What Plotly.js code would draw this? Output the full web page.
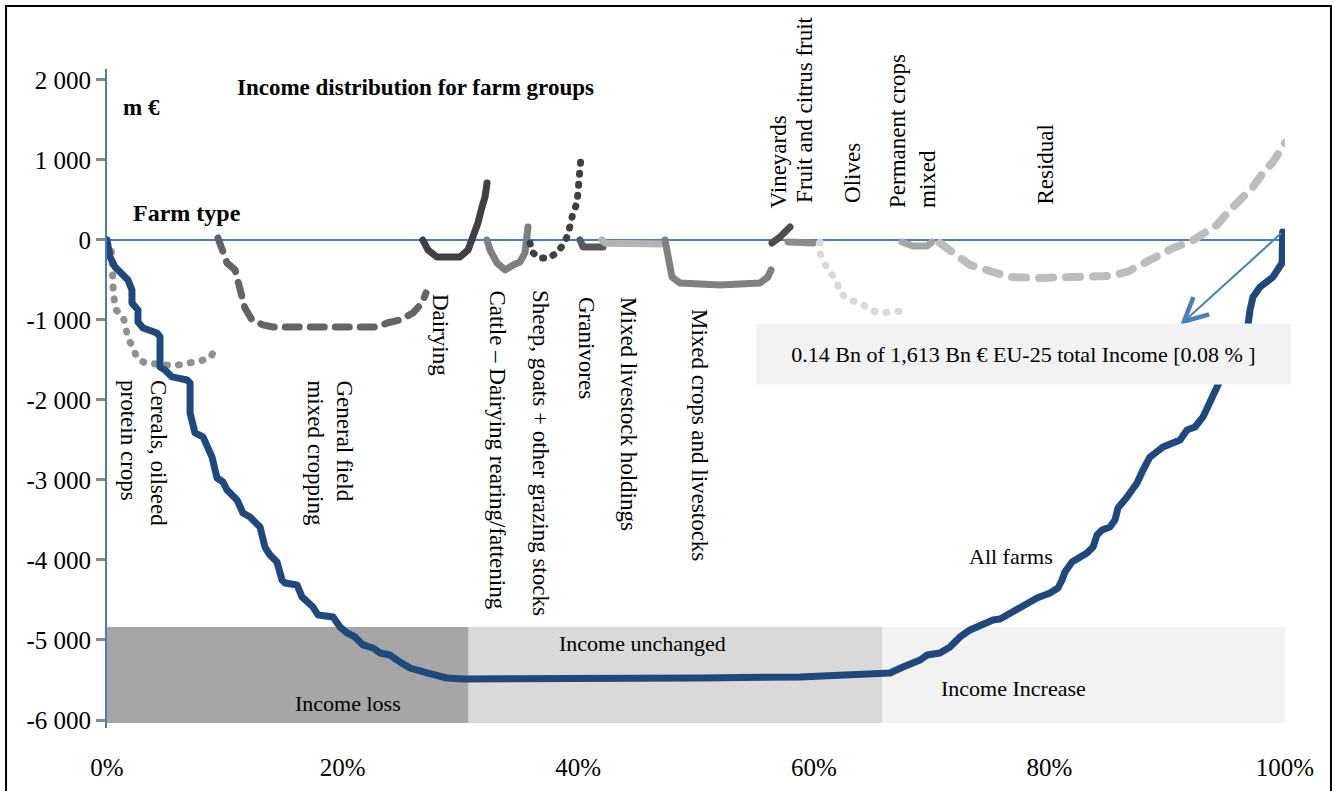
<!DOCTYPE html>
<html><head><meta charset="utf-8">
<script src="https://cdn.plot.ly/plotly-3.0.1.min.js"></script>
<style>
html,body{margin:0;padding:0;background:#fff;}
#chart{width:1334px;height:791px;}
.scatterlayer .js-line{stroke-linecap:round !important;stroke-linejoin:round !important;}
</style></head><body><div id="chart"></div>
<script>
// ---------- axes ----------
const yTickVals = [-6000,-5000,-4000,-3000,-2000,-1000,0,1000,2000];
const yTickText = ['-6 000','-5 000','-4 000','-3 000','-2 000','-1 000','0','1 000','2 000'];
const xTickVals = [0,20,40,60,80,100];
const xTickText = ['0%','20%','40%','60%','80%','100%'];

// ---------- series (x = cumulative share of farms, %, y = income change, m €) ----------
const allFarmsX = [0,0.08,0.25,0.68,1.78,2.12,2.12,2.63,2.63,3.06,4.24,4.5,4.5,4.92,5.52,6.79,7.05,7.05,7.3,7.47,8.15,8.91,9.34,9.85,10.19,11.04,11.54,12.14,12.99,13.41,13.84,14.43,14.86,15.11,16.13,16.55,17.49,17.91,19.19,19.78,20.37,21.05,21.73,22.58,23.17,24.02,24.87,25.72,27.16,28.86,30.22,35.91,50.34,58.83,63.92,65.79,66.47,67.57,69.02,69.61,70.71,71.56,72.41,73.26,74.11,75.21,75.81,76.4,77.25,78.1,78.95,80.05,80.73,81.07,81.32,81.92,83.19,83.7,84.04,84.47,85.14,85.57,85.82,86.59,87.44,87.95,88.54,89.64,91.09,91.68,92.36,93.04,93.63,94.31,95.33,96.18,96.86,97.03,97.28,97.88,98.98,99.75,99.8];
const allFarmsY = [0,-62,-212,-338,-500,-625,-788,-875,-1025,-1100,-1162,-1212,-1588,-1625,-1712,-1750,-1788,-2162,-2288,-2412,-2462,-2712,-2975,-3025,-3125,-3250,-3412,-3462,-3588,-3838,-3938,-4025,-4250,-4288,-4312,-4462,-4588,-4688,-4712,-4838,-4912,-4962,-5062,-5100,-5162,-5188,-5275,-5350,-5412,-5475,-5488,-5488,-5475,-5462,-5438,-5412,-5412,-5338,-5250,-5188,-5162,-5088,-4962,-4875,-4812,-4750,-4738,-4688,-4625,-4562,-4475,-4412,-4350,-4250,-4150,-4025,-3912,-3838,-3688,-3625,-3588,-3500,-3350,-3212,-3038,-2875,-2712,-2588,-2500,-2375,-2338,-2212,-2000,-1812,-1500,-1250,-1062,-875,-712,-588,-462,-288,100];

const cerealsX = [0,0.08,0.42,0.42,0.51,0.51,0.59,0.76,1.36,1.53,1.78,2.21,2.55,3.23,4.24,5.09,6.03,7.05,7.89,8.74,9.25];
const cerealsY = [0,-62,-162,-300,-450,-588,-725,-875,-950,-1100,-1225,-1350,-1475,-1538,-1562,-1562,-1562,-1538,-1512,-1475,-1350];

const generalFieldX = [9.42,9.85,10.19,10.87,11.12,11.38,11.71,12.31,13.24,14.09,16.38,19.19,22.07,22.92,23.77,24.87,25.98,26.74,27.08];
const generalFieldY = [25,-150,-288,-375,-538,-688,-850,-1000,-1062,-1088,-1088,-1088,-1088,-1088,-1038,-1000,-912,-788,-662];

const dairyingX = [26.8,27.25,28.01,29.97,30.65,31.07,31.49,31.83,32.09,32.26];
const dairyingY = [0,-125,-212,-212,-125,25,212,412,538,712];

const cattleX = [32.26,32.51,33.11,33.79,34.47,35.06,35.48,35.65,35.74];
const cattleY = [0,-125,-288,-375,-312,-275,-162,0,162];

const sheepX = [35.91,36.08,36.67,37.44,38.2,38.71,39.13,39.3,39.56,39.9,39.98,40.15,40.24,40.24];
const sheepY = [-38,-150,-225,-225,-162,-62,62,200,338,462,600,738,888,1038];

const granivoresX = [40.15,40.41,42.11];
const granivoresY = [0,-88,-88];

const mixedLivestockX = [42.02,42.28,47.11];
const mixedLivestockY = [0,-40,-50];

const mixedCropsX = [47.37,47.54,47.96,48.64,52.04,55.43,56.11,56.37];
const mixedCropsY = [0,-162,-462,-538,-562,-538,-462,-375];

const vineyardsX = [56.45,57.13,57.98];
const vineyardsY = [-38,38,162];

const fruitX = [57.81,58.83,59.93];
const fruitY = [-25,-38,-38];

const olivesX = [60.53,60.53,60.87,61.46,61.97,62.14,62.99,64.01,64.6,65.53,66.55,67.57];
const olivesY = [-25,-162,-288,-400,-525,-650,-750,-788,-862,-912,-900,-888];

const permanentX = [67.49,68.42,69.61,70.03];
const permanentY = [-25,-75,-75,-25];

const residualX = [70.71,71.82,73.26,75.21,76.66,78.95,81.49,85.14,86.59,87.69,89.39,90.49,91.94,93.04,94.23,95.33,96.18,97.28,98.13,98.98,100];
const residualY = [-38,-162,-312,-400,-462,-475,-462,-450,-400,-312,-188,-100,-25,88,188,375,500,662,838,975,1212];

// ---------- income zones ----------
const zoneNames = ['Income loss','Income unchanged','Income Increase'];
const zoneStart = [0,30.7,65.8];
const zoneEnd = [30.7,65.8,100];
const zoneColors = ['#A6A6A6','#D9D9D9','#F2F2F2'];
const zoneBottom = -6037, zoneTop = -4837;
const zoneLabelX = [20.46,45.5,76.91];
const zoneLabelY = [-5788,-5038,-5600];

// ---------- farm type labels ----------
const typeLabels = ['Cereals, oilseed<br>protein crops','General field<br>mixed cropping','Dairying','Cattle – Dairying rearing/fattening','Sheep, goats + other grazing stocks','Granivores','Mixed livestock holdings','Mixed crops and livestocks','Vineyards','Fruit and citrus fruit','Olives','Permanent crops<br>mixed','Residual'];
const typeLabelX = [3.05,18.93,28.27,33.11,36.76,40.75,44.31,50.34,56.96,59.25,63.33,68.42,79.63];
const typeLabelY = [-1725,-1725,-650,-600,-600,-688,-688,-838,375,438,438,375,412];
const typeLabelAnchor = ['top','top','top','top','top','top','top','top','bottom','bottom','bottom','bottom','bottom'];

const SERIF = '"Liberation Serif", "Times New Roman", serif';

function line(x, y, color, width, dash) {
  return {x:x, y:y, type:'scatter', mode:'lines', cliponaxis:false, hoverinfo:'skip',
          line:{color:color, width:width, dash:dash || 'solid', shape:'linear'}};
}

const traces = [
  line(cerealsX, cerealsY, '#909090', 7, '1px,11px'),
  line(generalFieldX, generalFieldY, '#646464', 7, '14px,11px'),
  line(dairyingX, dairyingY, '#404040', 7),
  line(cattleX, cattleY, '#7F7F7F', 7),
  line(sheepX, sheepY, '#404040', 7, '1px,10px'),
  line(granivoresX, granivoresY, '#595959', 7),
  line(mixedLivestockX, mixedLivestockY, '#B4B4B4', 7),
  line(mixedCropsX, mixedCropsY, '#808080', 7),
  line(vineyardsX, vineyardsY, '#4D4D4D', 7),
  line(fruitX, fruitY, '#8C8C8C', 7),
  line(olivesX, olivesY, '#D9D9D9', 7, '1px,11px'),
  line(permanentX, permanentY, '#A6A6A6', 7),
  line(residualX, residualY, '#BDBDBD', 8, '14px,13px'),
  line(allFarmsX, allFarmsY, '#1F497D', 7)
];

const shapes = [];
for (let i = 0; i < zoneNames.length; i++) {
  shapes.push({type:'rect', xref:'x', yref:'y', x0:zoneStart[i], x1:zoneEnd[i], y0:zoneBottom, y1:zoneTop,
               fillcolor:zoneColors[i], line:{width:0}, layer:'below'});
}
// outer frame
shapes.push({type:'rect', xref:'paper', yref:'paper', x0:-0.0857, x1:1.039, y0:-0.12, y1:1.0956,
             line:{color:'#000', width:2}, fillcolor:'rgba(0,0,0,0)', layer:'above'});

const annotations = [];
const txt = (size, bold) => ({family:SERIF, size:size, color:'#000', weight: bold ? 'bold' : 'normal'});

for (let i = 0; i < zoneNames.length; i++) {
  annotations.push({x:zoneLabelX[i], y:zoneLabelY[i], xref:'x', yref:'y', text:zoneNames[i], showarrow:false, font:txt(22)});
}
for (let i = 0; i < typeLabels.length; i++) {
  const top = typeLabelAnchor[i] === 'top';
  annotations.push({x:typeLabelX[i], y:typeLabelY[i], xref:'x', yref:'y', text:typeLabels[i], showarrow:false,
                    textangle: top ? 90 : -90, yanchor:typeLabelAnchor[i], xanchor:'center',
                    align:'left', font:txt(23)});
}
annotations.push({x:26.23, y:1900, xref:'x', yref:'y', text:'<b>Income distribution for farm groups</b>', showarrow:false, font:txt(23,true)});
annotations.push({x:2.89, y:1650, xref:'x', yref:'y', text:'<b>m €</b>', showarrow:false, font:txt(23,true)});
annotations.push({x:6.79, y:338, xref:'x', yref:'y', text:'<b>Farm type</b>', showarrow:false, font:txt(24,true)});
annotations.push({x:76.74, y:-3962, xref:'x', yref:'y', text:'All farms', showarrow:false, font:txt(22)});
// arrow from the end of "All farms" to the summary box
annotations.push({x:91.1, y:-1062, xref:'x', yref:'y', ax:99.8, ay:100, axref:'x', ayref:'y', text:'',
                  showarrow:true, arrowhead:5, arrowsize:2.3, arrowwidth:2, arrowcolor:'#4A7EBB', standoff:0});
annotations.push({x:77.8, y:-1425, xref:'x', yref:'y', text:'0.14 Bn of 1,613 Bn € EU-25 total Income [0.08 % ]',
                  showarrow:false, bgcolor:'#F2F2F2', width:533, height:60, borderpad:0, xanchor:'center', yanchor:'middle',
                  font:txt(22)});

const layout = {
  width:1334, height:791,
  margin:{l:107, r:49, t:69, b:63},
  paper_bgcolor:'#fff', plot_bgcolor:'rgba(0,0,0,0)',
  showlegend:false,
  font:{family:SERIF, color:'#000'},
  xaxis:{range:[0,100], showgrid:false, zeroline:false, showline:false,
         tickvals:xTickVals, ticktext:xTickText, ticks:'outside', ticklen:17, tickcolor:'rgba(0,0,0,0)',
         tickfont:{family:SERIF, size:25, color:'#000'}, fixedrange:true},
  yaxis:{range:[-6100,2137], showgrid:false, zeroline:true, zerolinecolor:'#4A7EBB', zerolinewidth:2,
         showline:true, linecolor:'#4A7EBB', linewidth:2,
         tickvals:yTickVals, ticktext:yTickText, ticks:'outside', ticklen:9, tickwidth:3, tickcolor:'#878787',
         tickfont:{family:SERIF, size:25, color:'#000'}, fixedrange:true},
  shapes:shapes,
  annotations:annotations,
  hovermode:false
};

Plotly.newPlot('chart', traces, layout, {displayModeBar:false, staticPlot:true});
</script></body></html>
